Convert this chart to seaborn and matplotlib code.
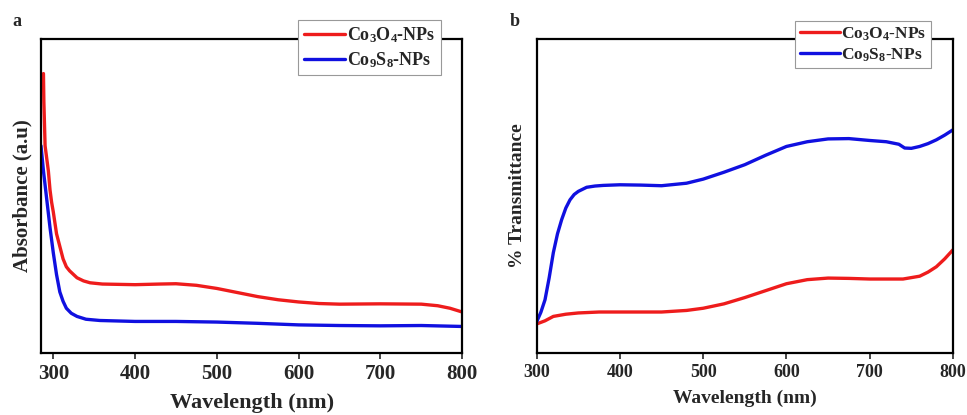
import numpy as np
import pandas as pd
import seaborn as sns
import matplotlib.pyplot as plt

# panel a: absorbance (arbitrary units)
abs_co3o4_nm = [288, 288.5, 290, 292, 294, 296, 298, 300, 304, 308, 312, 316, 320, 329, 337, 345, 360,
                380, 400, 430, 450, 475, 500, 525, 550, 575, 600, 625, 650, 700, 750, 770, 785, 800]
abs_co3o4 = [0.89, 0.80, 0.66, 0.62, 0.58, 0.52, 0.48, 0.45, 0.38, 0.34, 0.30, 0.275, 0.262, 0.240, 0.230,
             0.224, 0.220, 0.219, 0.218, 0.220, 0.221, 0.216, 0.206, 0.193, 0.180, 0.170, 0.163, 0.158, 0.156,
             0.157, 0.156, 0.151, 0.143, 0.131]
abs_co9s8_nm = [285, 288, 292, 296, 300, 304, 308, 312, 316, 322, 329, 340, 357, 400, 450, 500, 550,
                600, 650, 700, 750, 800]
abs_co9s8 = [0.66, 0.58, 0.49, 0.40, 0.32, 0.25, 0.195, 0.165, 0.143, 0.127, 0.117, 0.108, 0.104, 0.101,
             0.101, 0.099, 0.095, 0.090, 0.088, 0.087, 0.088, 0.085]

# panel b: transmittance (arbitrary units)
tr_co3o4_nm = [300, 310, 320, 335, 350, 375, 400, 450, 480, 500, 525, 550, 575, 600, 625, 650, 675,
               700, 740, 760, 770, 780, 790, 800]
tr_co3o4 = [0.093, 0.103, 0.117, 0.124, 0.128, 0.131, 0.131, 0.131, 0.136, 0.143, 0.157, 0.177, 0.199,
            0.221, 0.234, 0.239, 0.238, 0.236, 0.236, 0.245, 0.258, 0.275, 0.300, 0.329]
tr_co9s8_nm = [300, 305, 310, 315, 320, 325, 330, 335, 340, 345, 350, 360, 370, 380, 400, 425, 450, 480,
               500, 525, 550, 575, 600, 625, 650, 675, 700, 720, 735, 742, 750, 760, 770, 780, 790, 800]
tr_co9s8 = [0.10, 0.13, 0.17, 0.24, 0.32, 0.38, 0.425, 0.462, 0.488, 0.505, 0.515, 0.528, 0.532, 0.534,
            0.536, 0.535, 0.533, 0.541, 0.554, 0.576, 0.600, 0.630, 0.658, 0.673, 0.682, 0.683, 0.677,
            0.673, 0.665, 0.653, 0.652, 0.658, 0.667, 0.679, 0.694, 0.711]

labels = [r"Co$_3$O$_4$-NPs", r"Co$_9$S$_8$-NPs"]
colors = ["#ee1c1c", "#1010e0"]

sns.set_style("white")
plt.rcParams["font.family"] = ["Liberation Serif", "DejaVu Serif"]
plt.rcParams["font.weight"] = "bold"
plt.rcParams["mathtext.fontset"] = "custom"
plt.rcParams["mathtext.rm"] = "Liberation Serif:bold"
plt.rcParams["mathtext.it"] = "Liberation Serif:bold"
plt.rcParams["mathtext.bf"] = "Liberation Serif:bold"
plt.rcParams["mathtext.default"] = "rm"

fig = plt.figure(figsize=(9.67, 4.15), dpi=100)
ax1 = fig.add_axes([0.0424, 0.149, 0.4356, 0.757])
ax2 = fig.add_axes([0.555, 0.149, 0.4305, 0.757])

lw = 2.4
sns.lineplot(x=abs_co3o4_nm, y=abs_co3o4, ax=ax1, color=colors[0], lw=lw, label=labels[0], sort=False)
sns.lineplot(x=abs_co9s8_nm, y=abs_co9s8, ax=ax1, color=colors[1], lw=lw, label=labels[1], sort=False)
sns.lineplot(x=tr_co3o4_nm, y=tr_co3o4, ax=ax2, color=colors[0], lw=lw, label=labels[0])
sns.lineplot(x=tr_co9s8_nm, y=tr_co9s8, ax=ax2, color=colors[1], lw=lw, label=labels[1])

ax1.set_xlim(285, 800)
ax2.set_xlim(300, 800)
for ax in (ax1, ax2):
    ax.set_ylim(0, 1)
    ax.set_yticks([])
    ax.set_xticks([300, 400, 500, 600, 700, 800])
    for s in ax.spines.values():
        s.set_color("black")
        s.set_linewidth(1.6)
    ax.tick_params(axis="x", direction="out", length=4, width=1.2, bottom=True, pad=4)

ax1.tick_params(axis="x", labelsize=15)
ax2.tick_params(axis="x", labelsize=13)
for lab in ax1.get_xticklabels() + ax2.get_xticklabels():
    lab.set_fontweight("bold")

ax1.set_xlabel("Wavelength (nm)", fontsize=16, fontweight="bold", labelpad=6)
ax1.set_ylabel("Absorbance (a.u)", fontsize=15, fontweight="bold", labelpad=6)
ax2.set_xlabel("Wavelength (nm)", fontsize=14, fontweight="bold", labelpad=6)
ax2.set_ylabel("% Transmittance", fontsize=14, fontweight="bold", labelpad=8)

leg1 = ax1.legend(loc="upper right", bbox_to_anchor=(0.97, 1.09), fontsize=13, frameon=True,
                  fancybox=False, edgecolor="#999999", framealpha=1, handlelength=2.3,
                  handletextpad=0.1, borderpad=0.3, labelspacing=0.3)
leg2 = ax2.legend(loc="upper right", bbox_to_anchor=(0.968, 1.085), fontsize=12.5, frameon=True,
                  fancybox=False, edgecolor="#999999", framealpha=1, handlelength=2.3,
                  handletextpad=0.1, borderpad=0.25, labelspacing=0.2)
for leg in (leg1, leg2):
    leg.get_frame().set_linewidth(0.8)
    for h in leg.get_lines():
        h.set_linewidth(lw)

fig.text(12 / 967, 1 - 22 / 415, "a", fontsize=13, fontweight="bold", va="center")
fig.text(510 / 967, 1 - 22 / 415, "b", fontsize=13, fontweight="bold", va="center")

fig.savefig("out.png", dpi=100)
